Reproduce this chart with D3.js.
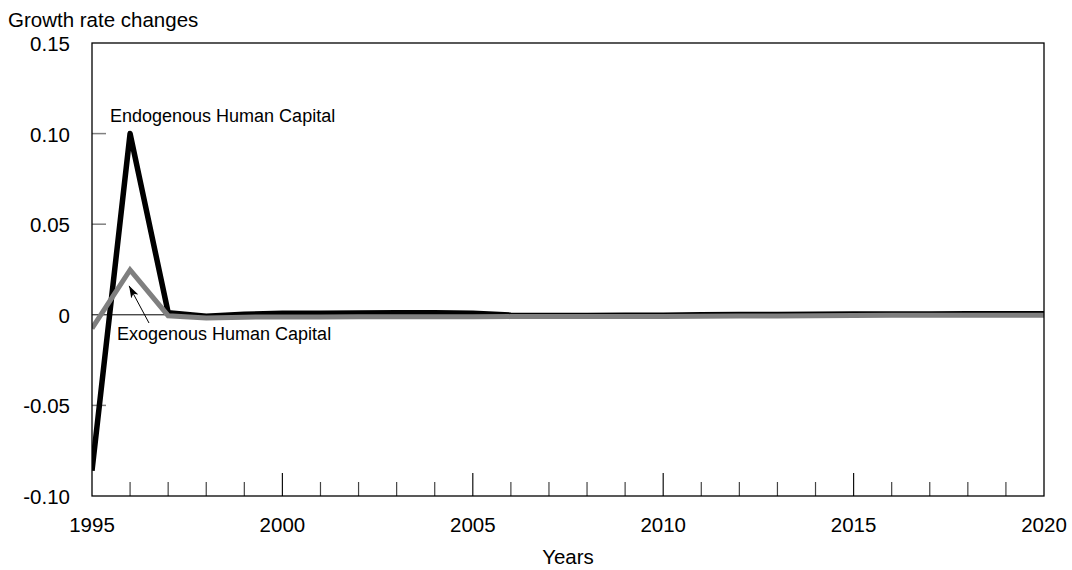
<!DOCTYPE html>
<html>
<head>
<meta charset="utf-8">
<script src="https://cdn.jsdelivr.net/npm/d3@7"></script>
<style>
  html, body { margin: 0; padding: 0; background: #fff; }
  svg { display: block; font-family: "Liberation Sans", Arial, sans-serif; }
</style>
</head>
<body>
<svg id="chart" width="1072" height="570"></svg>
<script>
// Years simulated
const years = d3.range(1995, 2021);

// Growth rate changes, model with endogenous human capital
const endogenous = [
  -0.086, 0.100, 0.0012, -0.0008, 0.0003, 0.0008, 0.0009, 0.0010, 0.0011, 0.0012,
  0.0008, -0.0002, -0.0004, -0.0004, -0.0003, -0.0002, 0.0000, 0.0001, 0.0002, 0.0003,
  0.0004, 0.0005, 0.0005, 0.0006, 0.0006, 0.0006
];

// Growth rate changes, model with exogenous human capital
const exogenous = [
  -0.0075, 0.0248, -0.0005, -0.0018, -0.0013, -0.0012, -0.0012, -0.0011, -0.0011, -0.0011,
  -0.0011, -0.0010, -0.0010, -0.0009, -0.0009, -0.0009, -0.0008, -0.0007, -0.0006, -0.0005,
  -0.0004, -0.0003, -0.0003, -0.0002, -0.0002, -0.0002
];

const yTickValues = [0.15, 0.10, 0.05, 0, -0.05, -0.10];
const yTickLabels = ["0.15", "0.10", "0.05", "0", "-0.05", "-0.10"];
const xLabelYears = [1995, 2000, 2005, 2010, 2015, 2020];

(function draw() {
  const svg = d3.select("#chart");
  const pLeft = 92, pRight = 1044, pTop = 43, pBottom = 496;
  const labelSize = 20.5, noteSize = 18;

  const x = d3.scaleLinear().domain([1995, 2020]).range([pLeft, pRight]);
  const y = d3.scaleLinear().domain([-0.10, 0.15]).range([pBottom, pTop]);

  // Axis title
  svg.append("text")
    .attr("x", 8).attr("y", 27)
    .attr("font-size", labelSize)
    .text("Growth rate changes");

  // Y tick labels
  svg.append("g").selectAll("text")
    .data(yTickValues)
    .join("text")
    .attr("x", 70)
    .attr("y", d => y(d) + 8)
    .attr("text-anchor", "end")
    .attr("font-size", labelSize)
    .text((d, i) => yTickLabels[i]);

  // Y ticks inside the frame
  svg.append("g").selectAll("line")
    .data(yTickValues.filter(d => d !== 0.15 && d !== -0.10 && d !== 0))
    .join("line")
    .attr("x1", pLeft).attr("x2", pLeft + 14)
    .attr("y1", d => y(d)).attr("y2", d => y(d))
    .attr("stroke", "#808080").attr("stroke-width", 1.5);

  // X ticks: every year, taller at five-year marks
  svg.append("g").selectAll("line")
    .data(years.filter(d => d !== 1995 && d !== 2020))
    .join("line")
    .attr("x1", d => x(d)).attr("x2", d => x(d))
    .attr("y1", pBottom)
    .attr("y2", d => pBottom - (d % 5 === 0 ? 23 : 14))
    .attr("stroke", d => d % 5 === 0 ? "#111" : "#444")
    .attr("stroke-width", 1.2);

  // X tick labels
  svg.append("g").selectAll("text")
    .data(xLabelYears)
    .join("text")
    .attr("x", d => x(d))
    .attr("y", 532)
    .attr("text-anchor", "middle")
    .attr("font-size", labelSize)
    .text(d => d);

  svg.append("text")
    .attr("x", 568).attr("y", 564)
    .attr("text-anchor", "middle")
    .attr("font-size", labelSize)
    .text("Years");

  // Zero line
  svg.append("line")
    .attr("x1", pLeft).attr("x2", pRight)
    .attr("y1", y(0)).attr("y2", y(0))
    .attr("stroke", "#000").attr("stroke-width", 1);

  const line = d3.line().x((d, i) => x(years[i])).y(d => y(d));

  const defs = svg.append("defs");
  defs.append("clipPath").attr("id", "plot-clip")
    .append("rect").attr("x", pLeft).attr("y", pTop)
    .attr("width", pRight - pLeft).attr("height", pBottom - pTop);

  svg.append("path")
    .datum(endogenous)
    .attr("d", line)
    .attr("fill", "none")
    .attr("stroke", "#000")
    .attr("stroke-width", 5.5)
    .attr("stroke-linejoin", "round")
    .attr("clip-path", "url(#plot-clip)");

  svg.append("path")
    .datum(exogenous)
    .attr("d", line)
    .attr("fill", "none")
    .attr("stroke", "#7f7f7f")
    .attr("stroke-width", 5)
    .attr("stroke-linejoin", "miter")
    .attr("clip-path", "url(#plot-clip)");

  // Frame
  svg.append("rect")
    .attr("x", pLeft).attr("y", pTop)
    .attr("width", pRight - pLeft).attr("height", pBottom - pTop)
    .attr("fill", "none").attr("stroke", "#000").attr("stroke-width", 1.3);

  // Annotations
  svg.append("text")
    .attr("x", 110).attr("y", 122)
    .attr("font-size", noteSize)
    .text("Endogenous Human Capital");

  svg.append("text")
    .attr("x", 117).attr("y", 340)
    .attr("font-size", noteSize)
    .text("Exogenous Human Capital");

  defs.append("marker")
    .attr("id", "arrowhead")
    .attr("viewBox", "0 0 12 8")
    .attr("refX", 12).attr("refY", 4)
    .attr("markerWidth", 12).attr("markerHeight", 8)
    .attr("markerUnits", "userSpaceOnUse")
    .attr("orient", "auto")
    .append("path").attr("d", "M0,0 L12,4 L0,8 L3,4 Z").attr("fill", "#000");

  svg.append("line")
    .attr("x1", 149).attr("y1", 323)
    .attr("x2", x(1996) - 1).attr("y2", y(exogenous[1]) + 16)
    .attr("stroke", "#000").attr("stroke-width", 1)
    .attr("marker-end", "url(#arrowhead)");
})();
</script>
</body>
</html>
